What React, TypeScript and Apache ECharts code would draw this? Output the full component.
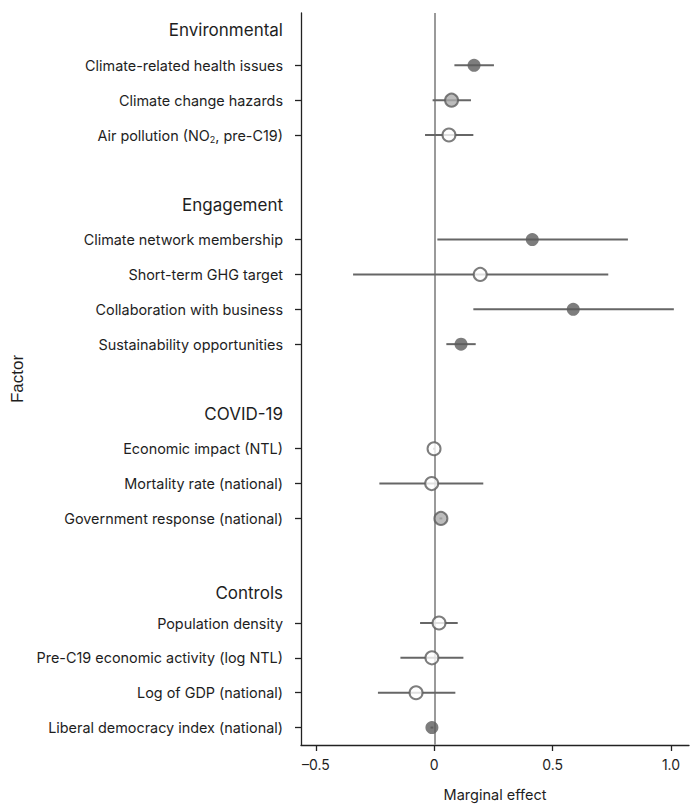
import React, { useEffect, useRef } from "react";
import * as echarts from "echarts";

// Rows (top to bottom). Headers and blank spacer rows included.
const rows: string[] = [
  "Environmental",
  "Climate-related health issues",
  "Climate change hazards",
  "Air pollution (NO2, pre-C19)",
  "",
  "Engagement",
  "Climate network membership",
  "Short-term GHG target",
  "Collaboration with business",
  "Sustainability opportunities",
  "",
  "COVID-19",
  "Economic impact (NTL)",
  "Mortality rate (national)",
  "Government response (national)",
  "",
  "Controls",
  "Population density",
  "Pre-C19 economic activity (log NTL)",
  "Log of GDP (national)",
  "Liberal democracy index (national)",
];
const headers = ["Environmental", "Engagement", "COVID-19", "Controls"];

const factors: string[] = [
  "Climate-related health issues",
  "Climate change hazards",
  "Air pollution (NO2, pre-C19)",
  "Climate network membership",
  "Short-term GHG target",
  "Collaboration with business",
  "Sustainability opportunities",
  "Economic impact (NTL)",
  "Mortality rate (national)",
  "Government response (national)",
  "Population density",
  "Pre-C19 economic activity (log NTL)",
  "Log of GDP (national)",
  "Liberal democracy index (national)",
];
const estimates: number[] = [0.168, 0.073, 0.062, 0.414, 0.194, 0.587, 0.113, -0.001, -0.011, 0.028, 0.02, -0.01, -0.077, -0.01];
const lower: number[] = [0.085, -0.007, -0.039, 0.013, -0.343, 0.165, 0.051, -0.005, -0.232, 0.022, -0.06, -0.143, -0.238, -0.016];
const upper: number[] = [0.252, 0.155, 0.165, 0.818, 0.735, 1.012, 0.175, 0.003, 0.207, 0.034, 0.099, 0.123, 0.089, -0.004];
// significance style: "dark" | "gray" | "open"
const markerStyle: string[] = ["dark", "gray", "open", "dark", "open", "dark", "dark", "open", "open", "gray", "open", "open", "open", "dark"];
const xTicks: number[] = [-0.5, 0, 0.5, 1.0];

const FONT = "Inter";
const DARK = "#5c5c5c";
const TEXT = "#1e1e1e";

export default function App() {
  const ref = useRef<HTMLDivElement>(null);
  useEffect(() => {
    if (!ref.current) return;
    const chart = echarts.init(ref.current, undefined, { renderer: "svg" });
    const rowIndex = (name: string) => rows.indexOf(name);
    const barData = factors.map((f, i) => [lower[i], upper[i], rowIndex(f)]);
    const pointData = factors.map((f, i) => {
      const s = markerStyle[i];
      const fill = s === "dark" ? DARK : s === "gray" ? "#ababab" : "#ffffff";
      return {
        value: [estimates[i], rowIndex(f)],
        itemStyle: {
          color: fill,
          borderColor: DARK,
          borderWidth: s === "dark" ? 0 : 2,
        },
      };
    });
    const option: any = {
      animation: false,
      grid: { left: 301, right: 7, top: 13, bottom: 55, containLabel: false },
      xAxis: {
        type: "value",
        min: -0.563,
        max: 1.076,
        name: "Marginal effect",
        nameLocation: "middle",
        nameGap: 42,
        nameTextStyle: { fontFamily: FONT, fontSize: 14.5, color: TEXT },
        splitLine: { show: false },
        axisLine: { show: true, onZero: false, lineStyle: { color: "#222", width: 1.3 } },
        axisTick: { show: true, length: 6, customValues: xTicks, lineStyle: { color: "#222", width: 1.3 } },
        axisLabel: {
          customValues: xTicks,
          fontFamily: FONT,
          fontSize: 14,
          color: TEXT,
          margin: 12,
          formatter: (v: number) => (v === 0 ? "0" : v < 0 ? "\u2013" + Math.abs(v).toFixed(1) : v.toFixed(1)),
        },
      },
      yAxis: {
        type: "category",
        inverse: true,
        data: rows.map((r, i) => (r === "" ? " ".repeat(i) : r)),
        name: "Factor",
        nameLocation: "middle",
        nameRotate: 90,
        nameGap: 269,
        nameTextStyle: { fontFamily: "Liberation Sans", fontSize: 17, color: TEXT },
        axisLine: { show: true, onZero: false, lineStyle: { color: "#222", width: 1.3 } },
        axisTick: {
          show: true,
          alignWithLabel: true,
          length: 6,
          interval: (idx: number) => rows[idx] !== "" && !headers.includes(rows[idx]),
          lineStyle: { color: "#222", width: 1.3 },
        },
        axisLabel: {
          interval: 0,
          margin: 18,
          fontFamily: FONT,
          fontSize: 14.4,
          color: TEXT,
          formatter: (v: string, idx: number) => {
            const r = rows[idx];
            if (headers.includes(r)) return r === "Controls" ? "{h2|" + r + "}" : "{h|" + r + "}";
            if (r.startsWith("Air pollution")) return "Air pollution (NO{sub|2}, pre-C19)";
            return r;
          },
          rich: {
            h: { fontFamily: FONT, fontSize: 17, color: TEXT },
            h2: { fontFamily: FONT, fontSize: 17, color: TEXT, padding: [10, 0, 0, 0] },
            sub: { fontFamily: FONT, fontSize: 9, color: TEXT, verticalAlign: "bottom", padding: [8, 0, 0, 0] },
          },
        },
        splitLine: { show: false },
      },
      series: [
        {
          type: "custom",
          renderItem: (params: any, api: any) => {
            const p1 = api.coord([api.value(0), api.value(2)]);
            const p2 = api.coord([api.value(1), api.value(2)]);
            return {
              type: "line",
              shape: { x1: p1[0], y1: p1[1], x2: p2[0], y2: p2[1] },
              style: { stroke: "#666666", lineWidth: 2 },
            };
          },
          encode: { x: [0, 1], y: 2 },
          data: barData,
          z: 2,
        },
        {
          type: "scatter",
          symbol: "circle",
          symbolSize: 13,
          data: pointData,
          z: 3,
          markLine: {
            silent: true,
            symbol: "none",
            label: { show: false },
            lineStyle: { color: "#9a9a9a", width: 2, type: "solid" },
            data: [{ xAxis: 0 }],
            z: 1,
          },
        },
      ],
    };
    chart.setOption(option);
    return () => chart.dispose();
  }, []);
  return <div ref={ref} style={{ position: "absolute", left: 0, top: 0, width: 696, height: 807 }} />;
}
